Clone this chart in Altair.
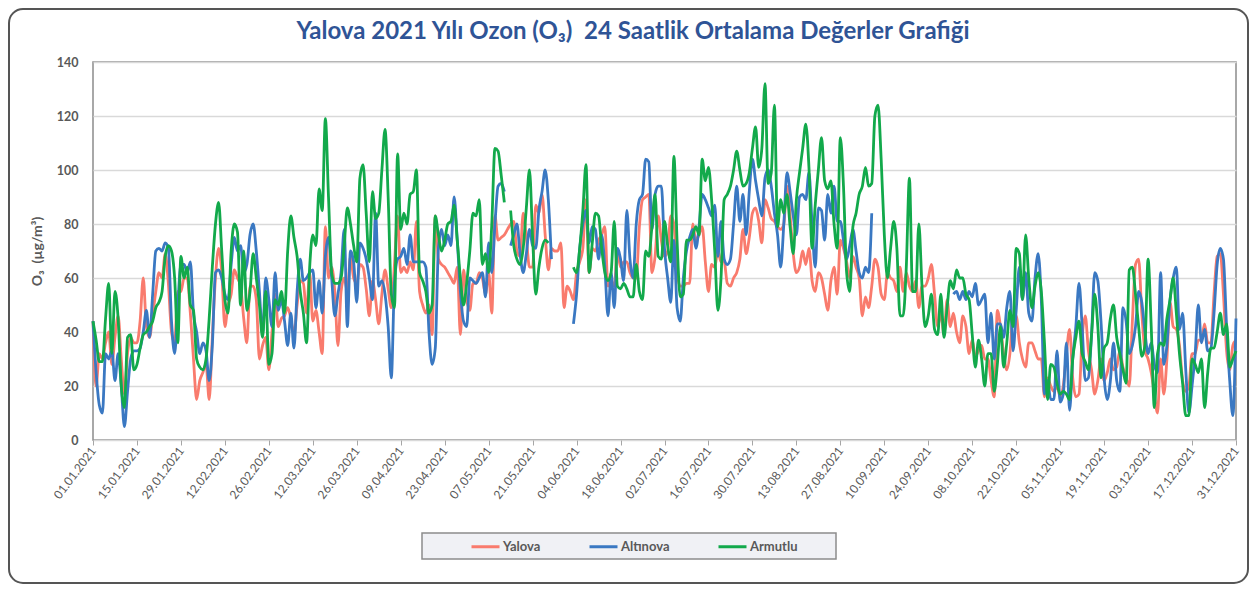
import json
import pandas as pd
import altair as alt

N = None

TITLE = "Yalova 2021 Yılı Ozon (O₃)\u00a0 24 Saatlik Ortalama Değerler Grafiği"
Y_TITLE = "O₃\u00a0 (µg/m³)"
STATIONS = ["Yalova", "Altınova", "Armutlu"]
COLORS = ["#F97B6D", "#3A78C2", "#12A94B"]
TICK_LABELS = ["01.01.2021", "15.01.2021", "29.01.2021", "12.02.2021", "26.02.2021",
               "12.03.2021", "26.03.2021", "09.04.2021", "23.04.2021", "07.05.2021",
               "21.05.2021", "04.06.2021", "18.06.2021", "02.07.2021", "16.07.2021",
               "30.07.2021", "13.08.2021", "27.08.2021", "10.09.2021", "24.09.2021",
               "08.10.2021", "22.10.2021", "05.11.2021", "19.11.2021", "03.12.2021",
               "17.12.2021", "31.12.2021"]
Y_TICKS = [0, 20, 40, 60, 80, 100, 120, 140]

YALOVA = (
    [44, 20, 32, 30, 36, 40, 28, 38, 46, 30, 17, 32, 38, 36]
    + [36, 44, 60, 42, 38, 46, 55, 62, 60, 69, 58, 40, 36, 55]
    + [55, 60, 60, 47, 30, 15, 22, 25]
    + [28, 15, 38, 60, 71, 62, 42, 50, 54, 63, 60, 57, 45, 36, 57, 57, 52, 30, 35, 38,
       26, 40, 54, 42, 45, 46, 49, 45, 39, 50, 59, 58, 47, 62, 44, 48, 40, 32, 79, 60, 64, 55]
    + [35, 55, 60, 55, 68, 60, 58, 65, 64, 56, 46, 59, 52, 43, 54, 63, 56, 49, 65, 83,
       62, 64, 62, 66, 63, 81, 55, 50, 47, 50, 39, 83, 67, 65, 64, 62, 60, 58]
    + [64, 39, 63, 52, 48, 58, 58, 62, 60, 54, 62, 47, 83, 74, 75, 76, 78, 80, 81, 70,
       68, 84, 75, 64, 64, 87, 84, 91, 76, 63, 71, 70, 70, 73, 49, 57, 55, 52]
    + [62, 66, 71, 89, 62, 71, 70, 74, 76, 79, 57, 59, 57, 70, 64, 66, 66, 62, 60, 60,
       79, 89, 90, 91, 62, 68, 83, 74, 68, 70, 83, 80, 62, 57, 57, 58, 58, 80, 74, 76,
       79, 66, 55, 65]
    + [64, 70, 66, 66, 58, 57, 60, 62, 67, 78, 69, 75, 84, 86, 81, 73, 89, 86, 82, 81,
       79, 78, 80, 94, 83, 69, 62, 64, 70, 65, 71, 59, 55, 62, 60, 54, 48, 59, 64, 54,
       74, 71, 66]
    + [60, 68, 64, 60, 46, 53, 49, 57, 67, 64, 54, 52, 62, 60, 59, 55, 64, 55, 62, 57,
       55, 59, 49, 57, 57, 60, 65, 54, 42, 47, 39, 52, 42, 47, 40, 36, 46, 42, 32, 37,
       31, 33, 35]
    + [30, 30, 22, 16, 48, 42, 32, 26, 32, 46, 46, 36, 30, 27, 36, 36, 33, 30, 30, 16,
       23, 20, 18, 20, 16, 20, 32, 41, 23, 16, 17, 38, 46, 33, 26, 17, 22, 30, 22, 25,
       30, 26, 27]
    + [33, 27, 23, 20, 44, 65, 67, 47, 33, 30, 25, 17, 10, 30, 17, 30, 51, 42, 41, 35,
       22, 18, 20, 32, 32, 37, 37, 43, 36, 36, 54, 68, 69, 54, 33, 26, 35, 37]
)

ALTINOVA = (
    [44, 25, 13, 10, 32, 30, 33, 22, 32, 20, 5, 18, 30, 33]
    + [33, 34, 40, 48, 38, 54, 70, 71, 70, 73, 71, 44, 32, 50]
    + [65, 65, 62, 66, 47, 40, 32, 36]
    + [33, 22, 35, 62, 63, 60, 54, 52, 65, 75, 70, 72, 62, 65, 76, 80, 70, 55, 39, 60,
       52, 42, 62, 48, 52, 44, 35, 47, 34, 55, 67, 59, 60, 62, 63, 49, 59, 47, 68, 75, 60, 46]
    + [54, 62, 78, 42, 70, 66, 51, 73, 71, 67, 60, 52, 84, 57, 59, 54, 42, 23, 58, 67,
       68, 71, 65, 76, 66, 66, 66, 66, 64, 40, 28, 34, 71, 78, 72, 76, 72, 90]
    + [74, 55, 44, 42, 60, 59, 58, 60, 62, 53, 73, 62, 80, 94, 95, 92, N, 72, 76, 80,
       69, 62, 69, 78, 72, 71, 85, 92, 100, 89, 67, N, N, N, N, N, N, 43]
    + [54, 71, 80, 85, 73, 79, 78, 67, 76, 64, 46, 62, 49, 71, 67, 59, 85, 67, 60, 80,
       89, 91, 104, 103, 78, 91, 94, 94, 71, 60, 51, 74, 49, 44, 60, 70, 75, 78, 71, 79,
       91, 89, 86, 83]
    + [87, 68, 81, 67, 65, 67, 80, 94, 81, 91, 76, 92, 104, 96, 89, 83, 97, 100, 94, 84,
       76, 64, 80, 99, 92, 83, 76, 90, 91, 89, 99, 80, 64, 86, 85, 74, 91, 84, 94, 81,
       81, 74, 67]
    + [72, 78, 70, 62, 60, 64, 62, 84]
    + [N] * 25
    + [54, 55, 52, 55, 52, 55, 53, 58, 50, 52]
    + [54, 36, 47, 30, 43, 43, 38, 49, 55, 33, 48, 64, 52, 62, 47, 44, 60, 69, 52, 17,
       22, 15, 15, 33, 14, 17, 36, 11, 30, 42, 58, 42, 22, 23, 39, 62, 59, 44, 23, 15,
       22, 36, 22]
    + [18, 49, 44, 32, 35, 42, 55, 51, 40, 32, 36, 28, 25, 62, 28, 35, 52, 60, 64, 41,
       47, 26, 10, 20, 32, 50, 36, 41, 33, 34, 47, 65, 71, 67, 42, 22, 9, 45]
)

ARMUTLU = (
    [44, 37, 29, 29, 45, 58, 32, 55, 45, 20, 12, 38, 39, 26]
    + [28, 34, 39, 40, 42, 44, 49, 51, 55, 68, 72, 70, 60, 36]
    + [68, 60, 64, 50, 48, 30, 27, 26]
    + [30, 45, 64, 80, 88, 70, 52, 47, 70, 80, 77, 50, 70, 48, 55, 69, 60, 50, 38, 55,
       28, 32, 52, 50, 55, 47, 70, 83, 75, 68, 55, 47, 36, 64, 76, 72, 93, 85, 119, 90, 62, 58]
    + [58, 60, 72, 86, 80, 72, 66, 97, 102, 84, 66, 92, 82, 84, 100, 115, 90, 54, 49, 106,
       78, 84, 80, 91, 92, 100, 62, 59, 55, 47, 50, 83, 76, 70, 74, 80, 81, 87]
    + [74, 60, 50, 58, 70, 84, 83, 89, 65, 69, 62, 80, 108, 107, 98, 88, N, 85, 72, 67,
       65, 71, 86, 100, 75, 54, 64, 71, 74, 73, N, N, N, N, N, N, N, 64]
    + [62, 71, 85, 102, 62, 73, 84, 83, 71, 62, 59, 62, 81, 57, 56, 58, 56, 53, 53, 65,
       55, 52, 70, 68, 79, 91, 68, 67, 81, 72, 66, 105, 74, 53, 54, 74, 74, 76, 79, 76,
       104, 96, 101, 89]
    + [70, 48, 60, 89, 91, 94, 100, 107, 100, 94, 95, 99, 108, 116, 101, 108, 132, 95, 99, 124,
       79, 89, 84, 91, 79, 69, 89, 99, 108, 117, 101, 71, 87, 100, 112, 96, 93, 96, 80, 71,
       112, 94, 62]
    + [55, 79, 84, 91, 94, 101, 94, 95, 120, 124, 104, 76, 60, 71, 81, 71, 46, 46, 64, 97,
       55, 55, 80, 57, 42, 46, 54, 41, 39, 54, 38, 49, 59, 56, 63, 60, 60, 54, 52, 39,
       27, 37, 30]
    + [20, 32, 32, 18, 28, 42, 27, 36, 48, 42, 71, 69, 52, 76, 60, 49, 57, 62, 55, 36,
       15, 28, 27, 21, 17, 18, 17, 15, 30, 38, 44, 32, 29, 26, 39, 54, 42, 23, 34, 36,
       45, 50, 38]
    + [32, 26, 21, 63, 64, 54, 42, 31, 35, 67, 42, 12, 32, 36, 35, 45, 52, 60, 47, 32,
       21, 9, 9, 30, 28, 25, 30, 12, 25, 34, 34, 40, 47, 39, 43, 27, 30, 33]
)

SERIES = {"Yalova": YALOVA, "Altınova": ALTINOVA, "Armutlu": ARMUTLU}
for name, vals in SERIES.items():
    assert len(vals) == 365, (name, len(vals))

rows = []
for name in STATIONS:
    for d, v in enumerate(SERIES[name]):
        rows.append({"day": d, "station": name, "o3": v})
df = pd.DataFrame(rows)
df["o3"] = df["o3"].astype(float)

W, H = 1143, 378
FONT = "Lato"
GRAY = "#595959"

label_expr = json.dumps(TICK_LABELS) + "[round(datum.value / 14)]"

lines = alt.Chart(df).mark_line(
    strokeWidth=2.8, interpolate="monotone", invalid="break-paths-show-domains"
).encode(
    x=alt.X("day:Q",
            scale=alt.Scale(domain=[0, 364], nice=False, zero=False),
            axis=alt.Axis(values=list(range(0, 365, 14)), labelExpr=label_expr,
                          labelAngle=-53, labelAlign="right", labelBaseline="middle",
                          title=None, grid=False, ticks=True, tickSize=5,
                          tickColor="#a6a6a6", labelPadding=3, domain=False,
                          labelOverlap=False, labelFont=FONT, labelFontSize=12,
                          labelColor=GRAY, labelFontWeight="normal")),
    y=alt.Y("o3:Q",
            scale=alt.Scale(domain=[0, 140], nice=False),
            axis=alt.Axis(values=Y_TICKS, title=Y_TITLE, ticks=False, domain=False,
                          labelPadding=15, titlePadding=12, labelFont=FONT,
                          labelFontSize=12.5, labelFontWeight="bold", labelColor=GRAY,
                          titleFont=FONT, titleFontSize=14, titleFontWeight="bold",
                          titleColor=GRAY, gridColor="#d9d9d9", gridWidth=1.5)),
    color=alt.Color("station:N",
                    scale=alt.Scale(domain=STATIONS, range=COLORS),
                    legend=alt.Legend(orient="none", legendX=377, legendY=469,
                                      direction="horizontal", title=None,
                                      symbolType="stroke", symbolSize=784,
                                      symbolStrokeWidth=3, columnPadding=42,
                                      labelOffset=2, labelFont=FONT, labelFontSize=13,
                                      labelFontWeight="bold", labelColor=GRAY,
                                      padding=0)),
)

one = pd.DataFrame({"k": [0]})

frame = alt.Chart(one).mark_rect(
    fill="white", fillOpacity=0, stroke="#555555", strokeWidth=2, cornerRadius=14
).encode(x=alt.value(-84), x2=alt.value(W + 12), y=alt.value(-53), y2=alt.value(H + 143))

legend_box = alt.Chart(one).mark_rect(
    fill="#F0F1F5", stroke="#8c8c8c", strokeWidth=1.5
).encode(x=alt.value(329), x2=alt.value(743), y=alt.value(471), y2=alt.value(497))

title = alt.Chart(pd.DataFrame({"t": [TITLE]})).mark_text(
    font=FONT, fontSize=24, fontWeight="bold", color="#2F5496",
    align="center", baseline="alphabetic"
).encode(text="t:N", x=alt.value(540), y=alt.value(-23))

chart = alt.layer(frame, legend_box, title, lines).properties(
    width=W, height=H, padding=0, background="white"
).configure_view(stroke="#8c8c8c", strokeWidth=1.5)

chart.save("out.html", embed_options={"renderer": "svg", "actions": False})
